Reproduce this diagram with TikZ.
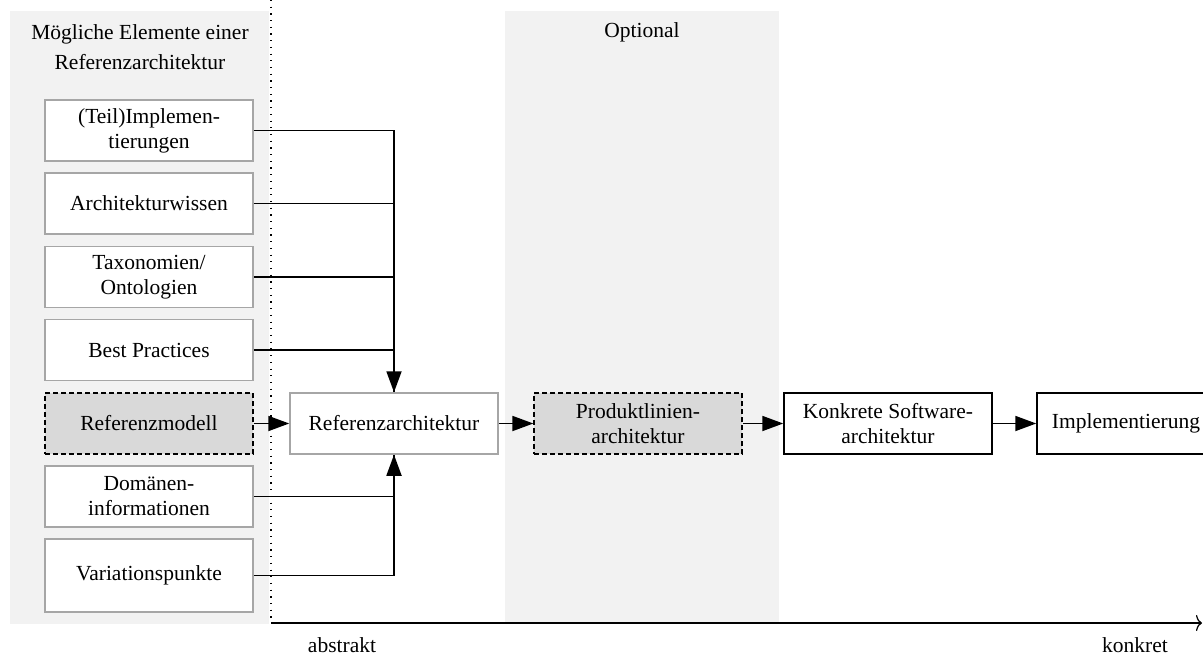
\documentclass[tikz,border=0pt]{standalone}
\usepackage{fontspec}
\setmainfont{Liberation Serif}
\usetikzlibrary{arrows.meta}
\definecolor{panel}{HTML}{F2F2F2}
\definecolor{dashfill}{HTML}{D9D9D9}
\definecolor{boxline}{HTML}{A6A6A6}
\begin{document}
\begin{tikzpicture}[x=1pt,y=1pt,
  every node/.style={font=\fontsize{21.5}{25}\selectfont, inner sep=0pt, align=center},
  elbox/.style={draw=boxline, line width=1.5pt, fill=white, minimum width=208pt, minimum height=61pt},
  optbox/.style={draw=black, dashed, dash pattern=on 5pt off 3pt, line width=1.3pt, fill=dashfill, minimum width=208pt, minimum height=61pt},
  concbox/.style={draw=black, line width=1.5pt, fill=white, minimum width=208pt, minimum height=61pt},
  conn/.style={line width=1.8pt},
  arr/.style={line width=1.8pt, -{Triangle[length=21pt,width=15pt]}},
  lbl/.style={font=\fontsize{21.5}{30}\selectfont}
]
\useasboundingbox (0,0) rectangle (1203,-655);
% panels
\fill[panel] (10,-11) rectangle (269,-624);
\fill[panel] (505,-11) rectangle (779,-624);
\node[lbl] (ttl) at (140,-47) {Mögliche Elemente einer\\Referenzarchitektur};
\node[lbl] (opt) at (642,-32) {Optional};
% dotted separator
\coordinate (dtop) at (271,0);
\coordinate (dbot) at (271,-623);
\draw[line width=1.2pt, dash pattern=on 1.2pt off 5.5pt] (dtop) -- (dbot);
% left boxes
\node[elbox] (b1) at (149,-130.5) {(Teil)Implemen-\\tierungen};
\node[elbox] (b2) at (149,-203.5) {Architekturwissen};
\node[elbox] (b3) at (149,-277) {Taxonomien/\\Ontologien};
\node[elbox] (b4) at (149,-350) {Best Practices};
\node[optbox] (b5) at (149,-423.5) {Referenzmodell};
\node[elbox] (b6) at (149,-496.5) {Domänen-\\informationen};
\node[elbox, minimum height=73pt] (b7) at (149,-575.5) {Variationspunkte};
% main chain
\node[elbox] (ref) at (394,-423.5) {Referenzarchitektur};
\node[optbox] (pla) at (638,-423.5) {Produktlinien-\\architektur};
\node[concbox] (ksa) at (888,-423.5) {Konkrete Software-\\architektur};
\node[concbox, minimum width=178pt] (imp) at (1126,-423.5) {Implementierung};
% connectors
\draw[conn] (b1.east) -| (ref.north);
\draw[conn] (b2.east) -| (ref.north);
\draw[conn] (b3.east) -| (ref.north);
\draw[arr] (b4.east) -| (ref.north);
\draw[conn] (b6.east) -| (ref.south);
\draw[arr] (b7.east) -| (ref.south);
\draw[arr] (b5) -- (ref);
\draw[arr] (ref) -- (pla);
\draw[arr] (pla) -- (ksa);
\draw[arr] (ksa) -- (imp);
% axis
\coordinate (ax0) at (271,-623);
\coordinate (ax1) at (1202,-623);
\draw[line width=1.2pt, -{To[length=6pt,width=16pt]}] (ax0) -- (ax1);
\node[anchor=base] (abs) at (342,-652) {abstrakt};
\node[anchor=base] (kon) at (1135,-652) {konkret};
\end{tikzpicture}
\end{document}
